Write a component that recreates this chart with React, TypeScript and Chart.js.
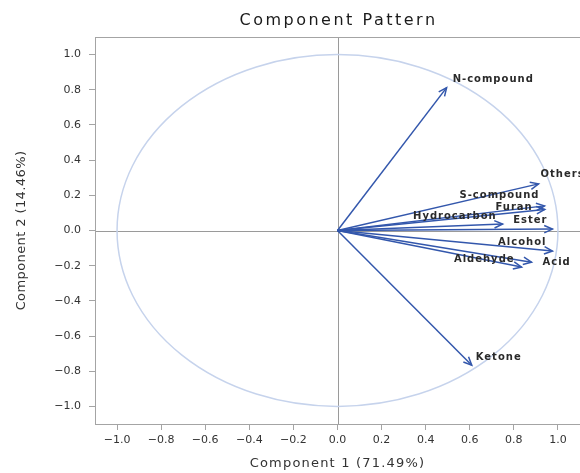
import React, { useEffect, useRef } from "react";
import { Chart, registerables } from "chart.js";

Chart.register(...registerables);

// Variables (loadings on the first two principal components)
const variables = [
  "N-compound",
  "Others",
  "S-compound",
  "Furan",
  "Hydrocarbon",
  "Ester",
  "Alcohol",
  "Acid",
  "Aldehyde",
  "Ketone",
];
const component1 = [0.495, 0.912, 0.939, 0.94, 0.749, 0.975, 0.975, 0.88, 0.835, 0.609];
const component2 = [0.812, 0.265, 0.14, 0.12, 0.037, 0.008, -0.117, -0.18, -0.208, -0.766];

const xTicks = [-1.0, -0.8, -0.6, -0.4, -0.2, 0.0, 0.2, 0.4, 0.6, 0.8, 1.0];
const yTicks = [-1.0, -0.8, -0.6, -0.4, -0.2, 0.0, 0.2, 0.4, 0.6, 0.8, 1.0];

const titleText = "Component Pattern";
const xTitle = "Component 1 (71.49%)";
const yTitle = "Component 2 (14.46%)";

// label placement relative to arrow tip: [align, dx, dy]
const labelPlacement: [CanvasTextAlign, number, number][] = [
  ["left", 6, -8],
  ["left", 2, -9],
  ["right", -5, -10],
  ["right", -12, -2],
  ["right", -6, -8],
  ["right", -5, -9],
  ["right", -6, -9],
  ["left", 11, 0],
  ["right", -7, -8],
  ["left", 4, -8],
];

const ARROW = "#3357ac";
const FRAME = "#a4a4a4";
const TEXT = "#333333";

const fmt = (v: number) => {
  if (Math.abs(v) < 1e-9) return "0.0";
  return v.toFixed(1).replace("-", "\u2212");
};

export default function App() {
  const ref = useRef<HTMLCanvasElement | null>(null);

  useEffect(() => {
    const canvas = ref.current;
    if (!canvas) return;

    const decor = {
      id: "decor",
      beforeDatasetsDraw(chart: any) {
        const { ctx, chartArea: a, scales } = chart;
        const xs = scales.x;
        const ys = scales.y;
        const x0 = xs.getPixelForValue(0);
        const y0 = ys.getPixelForValue(0);
        ctx.save();
        // zero lines
        ctx.strokeStyle = "#9a9a9a";
        ctx.lineWidth = 1;
        ctx.beginPath();
        ctx.moveTo(Math.round(x0) + 0.5, a.top);
        ctx.lineTo(Math.round(x0) + 0.5, a.bottom);
        ctx.moveTo(a.left, Math.round(y0) + 0.5);
        ctx.lineTo(a.right, Math.round(y0) + 0.5);
        ctx.stroke();
        // unit circle
        const rx = xs.getPixelForValue(1) - x0;
        const ry = y0 - ys.getPixelForValue(1);
        ctx.strokeStyle = "#c6d3ec";
        ctx.lineWidth = 1.5;
        ctx.beginPath();
        ctx.ellipse(x0, y0, rx, ry, 0, 0, Math.PI * 2);
        ctx.stroke();
        ctx.restore();
      },
      afterDatasetsDraw(chart: any) {
        const { ctx, scales } = chart;
        const xs = scales.x;
        const ys = scales.y;
        const x0 = xs.getPixelForValue(0);
        const y0 = ys.getPixelForValue(0);
        ctx.save();
        ctx.strokeStyle = ARROW;
        ctx.lineWidth = 1.5;
        for (let i = 0; i < variables.length; i++) {
          const px = xs.getPixelForValue(component1[i]);
          const py = ys.getPixelForValue(component2[i]);
          const ang = Math.atan2(py - y0, px - x0);
          const len = 9;
          const spread = 0.42;
          ctx.beginPath();
          ctx.moveTo(px - len * Math.cos(ang - spread), py - len * Math.sin(ang - spread));
          ctx.lineTo(px, py);
          ctx.lineTo(px - len * Math.cos(ang + spread), py - len * Math.sin(ang + spread));
          ctx.stroke();
        }
        ctx.fillStyle = "#2a2a2a";
        ctx.font = "bold 10px 'DejaVu Sans'";
        (ctx as any).letterSpacing = "1px";
        ctx.textBaseline = "middle";
        for (let i = 0; i < variables.length; i++) {
          const px = xs.getPixelForValue(component1[i]);
          const py = ys.getPixelForValue(component2[i]);
          const [align, dx, dy] = labelPlacement[i];
          ctx.textAlign = align;
          ctx.fillText(variables[i], px + dx, py + dy);
        }
        ctx.restore();
      },
      afterDraw(chart: any) {
        const { ctx, chartArea: a } = chart;
        ctx.save();
        ctx.strokeStyle = FRAME;
        ctx.lineWidth = 1;
        ctx.strokeRect(Math.round(a.left) + 0.5, Math.round(a.top) + 0.5, Math.round(a.right - a.left), Math.round(a.bottom - a.top));
        ctx.fillStyle = "#1a1a1a";
        ctx.textAlign = "center";
        ctx.textBaseline = "middle";
        ctx.font = "16px 'DejaVu Sans'";
        (ctx as any).letterSpacing = "2.5px";
        const cx = (a.left + a.right) / 2;
        ctx.fillText(titleText, cx + 1, 21);
        ctx.fillStyle = TEXT;
        ctx.font = "13px 'DejaVu Sans'";
        (ctx as any).letterSpacing = "1.2px";
        ctx.fillText(xTitle, cx, 464);
        (ctx as any).letterSpacing = "0.4px";
        ctx.translate(22, (a.top + a.bottom) / 2);
        ctx.rotate(-Math.PI / 2);
        ctx.fillText(yTitle, 0, 0);
        ctx.restore();
        (ctx as any).letterSpacing = "0px";
      },
    };

    const datasets = variables.map((name, i) => ({
      label: name,
      data: [
        { x: 0, y: 0 },
        { x: component1[i], y: component2[i] },
      ],
      showLine: true,
      borderColor: ARROW,
      backgroundColor: ARROW,
      borderWidth: 1.5,
      pointRadius: 0,
      pointHoverRadius: 0,
    }));

    const chart = new Chart(canvas, {
      type: "scatter",
      data: { datasets },
      plugins: [decor],
      options: {
        responsive: false,
        animation: false,
        layout: { padding: { top: 37, right: 0, left: 0, bottom: 0 } },
        plugins: {
          legend: { display: false },
          title: { display: false },
          tooltip: { enabled: false },
        },
        scales: {
          x: {
            type: "linear",
            min: -1.1,
            max: 1.1,
            afterBuildTicks: (s: any) => {
              s.ticks = xTicks.map((v) => ({ value: v }));
            },
            afterFit: (s: any) => {
              s.height = 49;
            },
            ticks: {
              callback: (v: any) => fmt(Number(v)),
              font: { family: "'DejaVu Sans'", size: 11 },
              color: TEXT,
              padding: 4,
              maxRotation: 0,
              autoSkip: false,
            },
            grid: {
              drawOnChartArea: false,
              drawTicks: true,
              tickLength: 6,
              tickColor: FRAME,
            },
            border: { display: false },
          },
          y: {
            type: "linear",
            min: -1.1,
            max: 1.1,
            afterBuildTicks: (s: any) => {
              s.ticks = yTicks.map((v) => ({ value: v }));
            },
            afterFit: (s: any) => {
              s.width = 95;
            },
            ticks: {
              callback: (v: any) => fmt(Number(v)),
              font: { family: "'DejaVu Sans'", size: 11 },
              color: TEXT,
              padding: 8,
              autoSkip: false,
            },
            grid: {
              drawOnChartArea: false,
              drawTicks: true,
              tickLength: 6,
              tickColor: FRAME,
            },
            border: { display: false },
          },
        },
      },
    });

    return () => chart.destroy();
  }, []);

  return (
    <div style={{ position: "absolute", left: 0, top: 0, width: 580, height: 473, background: "#ffffff" }}>
      <canvas ref={ref} width={580} height={473} style={{ display: "block" }} />
    </div>
  );
}
